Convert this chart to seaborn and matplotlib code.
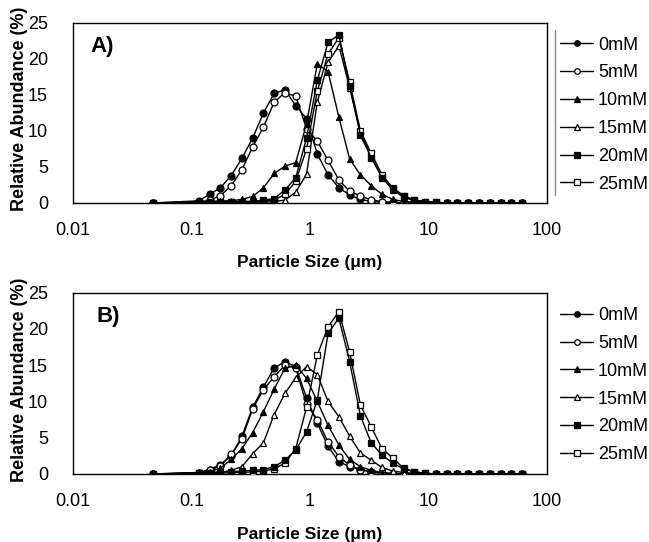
import matplotlib
matplotlib.use("Agg")
import matplotlib.pyplot as plt
import seaborn as sns
from matplotlib.ticker import NullLocator

# Particle size bins (um)
sizes = [0.047, 0.115, 0.142, 0.175, 0.216, 0.266, 0.328, 0.404, 0.498, 0.614,
         0.757, 0.934, 1.151, 1.419, 1.750, 2.158, 2.661, 3.281, 4.045, 4.988,
         6.150, 7.583, 9.350, 11.53, 14.21, 17.53, 21.61, 26.65, 32.86, 40.51,
         49.95, 61.59]

labels = ['0mM', '5mM', '10mM', '15mM', '20mM', '25mM']

# Panel A
a_0 = [0, 0.3, 1.2, 2.1, 3.8, 6.2, 9.0, 12.5, 15.2, 15.7, 13.5, 11.7, 6.8, 3.9, 2.1, 1.1,
       0.5, 0.2, 0.1, 0.05, 0, 0, 0, 0, 0, 0, 0, 0, 0, 0, 0, 0]
a_5 = [0, 0.1, 0.4, 1.0, 2.4, 4.6, 7.8, 10.5, 14.0, 15.3, 14.8, 10.3, 8.6, 5.9, 3.2, 1.6,
       1.0, 0.4, 0.2, 0.1, 0, 0, 0, 0, 0, 0, 0, 0, 0, 0, 0, 0]
a_10 = [0, 0.1, 0.2, 0.3, 0.3, 0.5, 0.9, 2.1, 4.1, 5.1, 5.6, 11.0, 19.3, 18.2, 11.9, 6.1,
        3.9, 2.4, 1.2, 0.5, 0.2, 0.1, 0, 0, 0, 0, 0, 0, 0, 0, 0, 0]
a_15 = [0, 0.1, 0.1, 0.1, 0.1, 0.1, 0.1, 0.1, 0.2, 0.4, 1.5, 4.0, 14.0, 19.5, 21.8, 16.0,
        9.8, 6.4, 3.6, 1.8, 0.8, 0.3, 0.1, 0, 0, 0, 0, 0, 0, 0, 0, 0]
a_20 = [0, 0.2, 0.2, 0.2, 0.2, 0.2, 0.2, 0.4, 0.6, 1.8, 3.5, 9.0, 17.0, 22.3, 23.3, 16.2,
        9.4, 6.3, 3.5, 2.0, 1.0, 0.4, 0.2, 0.1, 0, 0, 0, 0, 0, 0, 0, 0]
a_25 = [0, 0.1, 0.1, 0.1, 0.2, 0.2, 0.2, 0.3, 0.4, 1.2, 3.0, 7.5, 15.5, 20.7, 22.9, 16.8,
        10.0, 6.9, 3.9, 2.1, 1.0, 0.4, 0.2, 0.1, 0, 0, 0, 0, 0, 0, 0, 0]

# Panel B
b_0 = [0, 0.2, 0.6, 1.3, 2.5, 5.2, 9.2, 12.0, 14.6, 15.5, 14.8, 10.5, 7.0, 3.8, 1.7, 1.0,
       0.6, 0.3, 0.1, 0, 0, 0, 0, 0, 0, 0, 0, 0, 0, 0, 0, 0]
b_5 = [0, 0.1, 0.5, 1.1, 2.7, 4.8, 9.0, 11.6, 13.4, 15.0, 14.6, 9.6, 7.5, 4.4, 2.4, 1.2,
       0.6, 0.3, 0.1, 0, 0, 0, 0, 0, 0, 0, 0, 0, 0, 0, 0, 0]
b_10 = [0, 0.1, 0.3, 0.8, 2.0, 3.5, 5.7, 8.6, 11.7, 14.6, 15.0, 13.2, 10.0, 6.7, 4.0, 2.0,
        1.0, 0.5, 0.2, 0.1, 0, 0, 0, 0, 0, 0, 0, 0, 0, 0, 0, 0]
b_15 = [0, 0, 0.1, 0.2, 0.5, 1.0, 2.8, 4.3, 8.2, 11.1, 13.3, 14.8, 13.7, 10.0, 7.9, 5.2,
        2.9, 1.9, 0.9, 0.4, 0.2, 0.1, 0, 0, 0, 0, 0, 0, 0, 0, 0, 0]
b_20 = [0, 0.2, 0.2, 0.3, 0.3, 0.4, 0.5, 0.6, 1.0, 1.9, 3.3, 5.8, 10.2, 19.4, 21.5, 15.5,
        8.0, 4.3, 2.6, 1.5, 0.7, 0.3, 0.1, 0, 0, 0, 0, 0, 0, 0, 0, 0]
b_25 = [0, 0.1, 0.1, 0.1, 0.2, 0.2, 0.3, 0.4, 0.7, 1.5, 3.5, 9.2, 16.4, 20.3, 22.4, 16.8,
        9.5, 6.5, 3.5, 2.2, 0.8, 0.3, 0.1, 0, 0, 0, 0, 0, 0, 0, 0, 0]

panel_a = [a_0, a_5, a_10, a_15, a_20, a_25]
panel_b = [b_0, b_5, b_10, b_15, b_20, b_25]

markers = ['o', 'o', '^', '^', 's', 's']
faces = ['black', 'white', 'black', 'white', 'black', 'white']
draw_order = [0, 1, 2, 3, 5, 4]

sns.set_style('white')
plt.rcParams['font.family'] = ['Liberation Sans', 'DejaVu Sans']
plt.rcParams['text.color'] = 'black'
plt.rcParams['axes.labelcolor'] = 'black'
plt.rcParams['xtick.color'] = 'black'
plt.rcParams['ytick.color'] = 'black'

fig = plt.figure(figsize=(6.49, 5.42), dpi=100)
ax_a = fig.add_axes([0.1125, 0.6255, 0.7305, 0.3325])
ax_b = fig.add_axes([0.1125, 0.1255, 0.7305, 0.3345])


def draw_panel(ax, series, tag, tag_xy, vline=False):
    for z, i in enumerate(draw_order):
        sns.lineplot(x=sizes, y=series[i], ax=ax, color='black', linewidth=1.0,
                     marker=markers[i], markersize=5, markerfacecolor=faces[i],
                     markeredgecolor='black', markeredgewidth=0.9,
                     label=labels[i], errorbar=None, sort=False, zorder=3 + z)
    ax.set_xscale('log')
    ax.set_xlim(0.01, 100)
    ax.set_ylim(0, 25)
    ax.set_xticks([0.01, 0.1, 1, 10, 100], ['0.01', '0.1', '1', '10', '100'])
    ax.xaxis.set_minor_locator(NullLocator())
    ax.set_yticks([0, 5, 10, 15, 20, 25])
    ax.tick_params(axis='x', direction='in', length=3, width=0.8, pad=14,
                   labelsize=13, colors='black')
    ax.tick_params(axis='y', length=0, pad=18, labelsize=13, colors='black')
    for s in ax.spines.values():
        s.set_color('black')
        s.set_linewidth(1.0)
    ax.set_xlabel('Particle Size (μm)', fontsize=12.5, fontweight='bold', color='black')
    ax.set_ylabel('Relative Abundance (%)', fontsize=13, fontweight='bold', color='black')
    ax.xaxis.set_label_coords(0.5, -0.29)
    ax.yaxis.set_label_coords(-0.095, 0.52)
    ax.text(tag_xy[0], tag_xy[1], tag, transform=ax.transAxes, fontsize=16,
            fontweight='bold', ha='left', va='baseline', color='black')
    handles, labs = ax.get_legend_handles_labels()
    order = [labs.index(l) for l in labels]
    leg = ax.legend([handles[k] for k in order], labels, loc='center left',
                    bbox_to_anchor=(1.027, 0.49), frameon=False, fontsize=13,
                    handlelength=1.85, handletextpad=0.25, labelspacing=0.6,
                    borderpad=0, borderaxespad=0, markerscale=0.8)
    for t in leg.get_texts():
        t.set_color('black')
    if vline:
        ax.plot([1.017, 1.017], [0.044, 0.959], transform=ax.transAxes,
                color='#888888', linewidth=1.0, clip_on=False)


draw_panel(ax_a, panel_a, 'A)', (0.036, 0.837), vline=True)
draw_panel(ax_b, panel_b, 'B)', (0.05, 0.838))

fig.savefig('out.png', dpi=100)
